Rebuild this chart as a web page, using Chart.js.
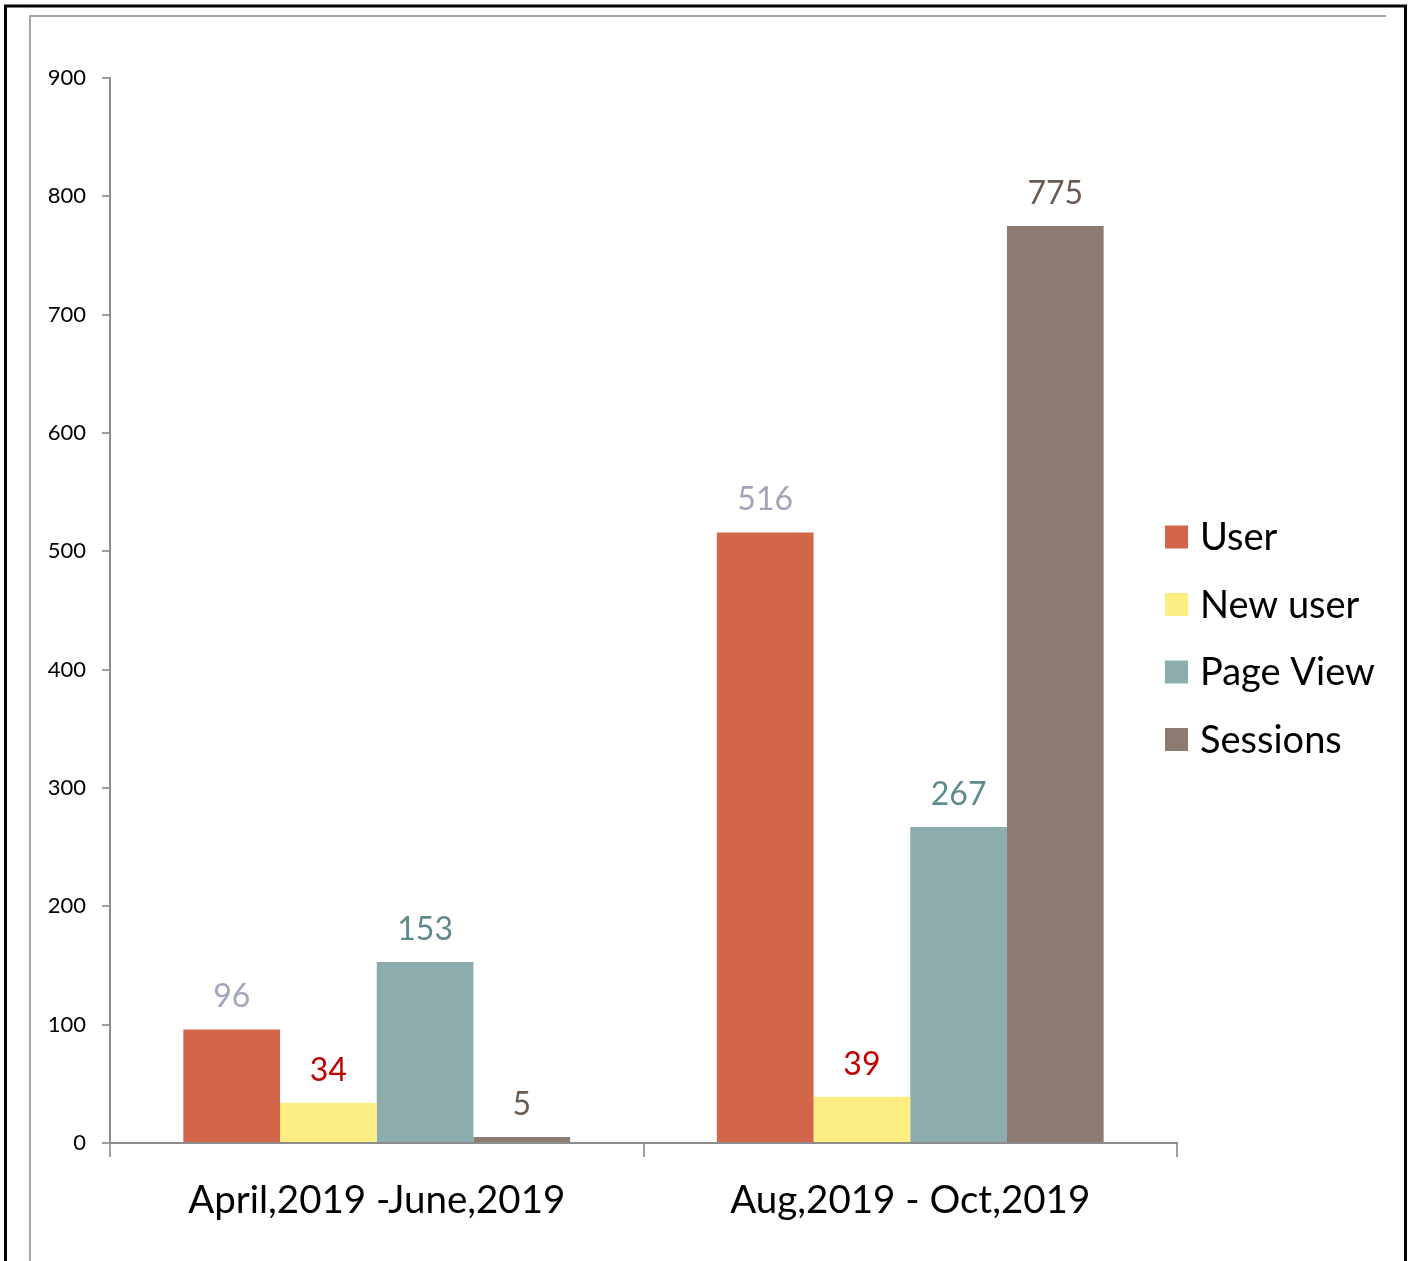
<!DOCTYPE html>
<html lang="en">
<head>
  <meta charset="UTF-8">
  <title>User / Sessions comparison</title>
  <script src="https://cdn.jsdelivr.net/npm/chart.js"></script>
  <style>
    body {
      margin: 0;
      padding: 0;
      background-color: #ffffff;
    }

    .wrap {
      position: relative;
      width: 1413px;
      height: 1261px;
    }
  </style>
</head>
<body>

  <div class="wrap">
    <canvas id="grafico" width="1413" height="1261"></canvas>
  </div>

  <script>
    // dados do gráfico
    const periodos = ["April,2019 -June,2019", "Aug,2019 - Oct,2019"];
    const series = ["User", "New user", "Page View", "Sessions"];
    const user = [96, 516];
    const newUser = [34, 39];
    const pageView = [153, 267];
    const sessions = [5, 775];
    const yTicks = [0, 100, 200, 300, 400, 500, 600, 700, 800, 900];

    const corBarra = ["#d2654a", "#fdee84", "#8cacad", "#8c7b70"];
    const corRotulo = ["#a2a5bb", "#c00000", "#5e8a8b", "#6b5b51"];

    const FONTE = "Lato, 'Open Sans', sans-serif";

    // moldura (preta por fora, cinza por dentro)
    const moldura = {
      id: "moldura",
      beforeDraw(chart) {
        const ctx = chart.ctx;
        ctx.save();
        ctx.fillStyle = "#ffffff";
        ctx.fillRect(0, 0, chart.width, chart.height);
        ctx.strokeStyle = "#000000";
        ctx.lineWidth = 3;
        ctx.beginPath();
        ctx.moveTo(5.5, chart.height + 2);
        ctx.lineTo(5.5, 6);
        ctx.lineTo(1405.5, 6);
        ctx.lineTo(1405.5, chart.height + 2);
        ctx.stroke();
        ctx.strokeStyle = "#a6a6a6";
        ctx.lineWidth = 2;
        ctx.beginPath();
        ctx.moveTo(30, chart.height + 2);
        ctx.lineTo(30, 16);
        ctx.lineTo(1386, 16);
        ctx.stroke();
        ctx.restore();
      }
    };

    // valores em cima de cada barra
    const rotulos = {
      id: "rotulos",
      afterDatasetsDraw(chart) {
        const ctx = chart.ctx;
        ctx.save();
        ctx.font = "32px " + FONTE;
        ctx.textAlign = "center";
        ctx.textBaseline = "alphabetic";
        chart.data.datasets.forEach((ds, i) => {
          const meta = chart.getDatasetMeta(i);
          meta.data.forEach((bar, j) => {
            ctx.fillStyle = corRotulo[i];
            ctx.fillText(String(ds.data[j]), bar.x, bar.y - 22);
          });
        });
        ctx.restore();
      }
    };

    // legenda à direita do gráfico
    const legenda = {
      id: "legenda",
      afterDraw(chart) {
        const ctx = chart.ctx;
        const x = chart.chartArea.right - 12;
        const y0 = 537;
        const passo = 67.5;
        ctx.save();
        ctx.font = "38px " + FONTE;
        ctx.textBaseline = "middle";
        ctx.textAlign = "left";
        chart.data.datasets.forEach((ds, i) => {
          const y = y0 + i * passo;
          ctx.fillStyle = ds.backgroundColor;
          ctx.fillRect(x, y - 11.5, 23, 23);
          ctx.fillStyle = "#000000";
          ctx.fillText(ds.label, x + 35, y + 1);
        });
        ctx.restore();
      }
    };

    const valores = [user, newUser, pageView, sessions];

    new Chart(document.getElementById("grafico"), {
      type: "bar",
      data: {
        labels: periodos,
        datasets: series.map((nome, i) => ({
          label: nome,
          data: valores[i],
          backgroundColor: corBarra[i],
          borderWidth: 0,
          categoryPercentage: 0.725,
          barPercentage: 1
        }))
      },
      options: {
        responsive: false,
        animation: false,
        layout: {
          padding: { top: 78, left: 0, right: 236, bottom: 0 }
        },
        plugins: {
          legend: { display: false },
          tooltip: { enabled: false }
        },
        scales: {
          x: {
            afterFit(scale) { scale.height = 118; },
            grid: {
              offset: true,
              drawOnChartArea: false,
              drawTicks: true,
              tickLength: 14,
              color: "#a0a0a0",
              lineWidth: 2
            },
            border: { color: "#8c8c8c", width: 2 },
            ticks: {
              color: "#000000",
              padding: 20,
              font: { family: FONTE, size: 38.5 }
            }
          },
          y: {
            min: 0,
            max: 900,
            afterFit(scale) { scale.width = 110; },
            afterBuildTicks(scale) { scale.ticks = yTicks.map(v => ({ value: v })); },
            grid: {
              drawOnChartArea: false,
              drawTicks: true,
              tickLength: 8,
              color: "#a0a0a0",
              lineWidth: 2
            },
            border: { color: "#8c8c8c", width: 2 },
            ticks: {
              color: "#000000",
              padding: 16,
              font: { family: FONTE, size: 22 }
            }
          }
        }
      },
      plugins: [moldura, rotulos, legenda]
    });
  </script>

</body>
</html>
